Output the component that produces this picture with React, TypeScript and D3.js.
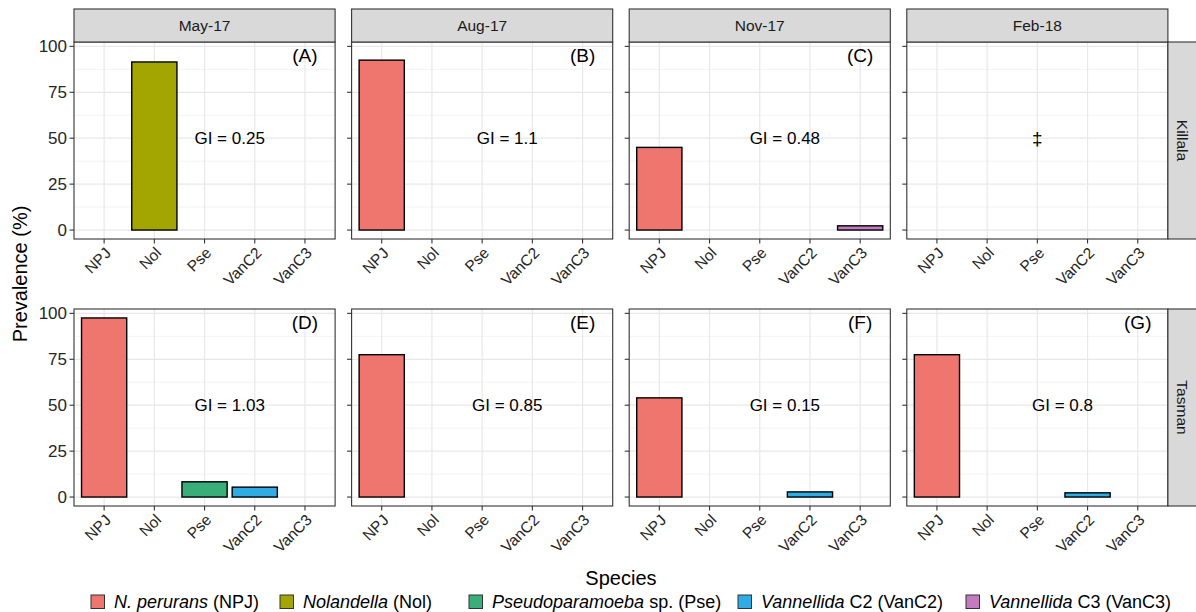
import * as d3 from 'd3';

// ---- data -----------------------------------------------------------------
const species = ['NPJ', 'Nol', 'Pse', 'VanC2', 'VanC3'];
const dates = ['May-17', 'Aug-17', 'Nov-17', 'Feb-18'];
const sites = ['Killala', 'Tasman'];

// prevalence (%) by date, in species order
const killala = [
  [0, 91.5, 0, 0, 0],
  [92.5, 0, 0, 0, 0],
  [45, 0, 0, 0, 2.3],
  [0, 0, 0, 0, 0],
];
const tasman = [
  [97.5, 0, 8.3, 5.4, 0],
  [77.5, 0, 0, 0, 0],
  [54, 0, 0, 2.8, 0],
  [77.5, 0, 0, 2.3, 0],
];
const prevalence = [killala, tasman];

const panelTags = [
  ['(A)', '(B)', '(C)', ''],
  ['(D)', '(E)', '(F)', '(G)'],
];
const giLabels = [
  ['GI = 0.25', 'GI = 1.1', 'GI = 0.48', ''],
  ['GI = 1.03', 'GI = 0.85', 'GI = 0.15', 'GI = 0.8'],
];
// panels without samples get a double dagger
const noData = [
  [false, false, false, true],
  [false, false, false, false],
];

const yTicks = [0, 25, 50, 75, 100];
const colors = ['#EE766F', '#A3A500', '#3AAE78', '#2FACE4', '#C27BBF'];
const legendItalic = ['N. perurans', 'Nolandella', 'Pseudoparamoeba', 'Vannellida', 'Vannellida'];
const legendPlain = [' (NPJ)', ' (Nol)', ' sp. (Pse)', ' C2 (VanC2)', ' C3 (VanC3)'];

// ---- layout ---------------------------------------------------------------
const W = 1196;
const H = 612;
const left0 = 74;
const panelW = 261.1;
const gapX = 16.5;
const stripTop = 9;
const rows = [
  { top: 42, bottom: 239 },
  { top: 309, bottom: 506 },
];
const tickLen = 4.5;
const legendKeyX = [91, 280, 469, 738, 966];
const FONT = '"Liberation Sans", Arial, Helvetica, sans-serif';

export default function App() {
  const ymax = d3.max(prevalence.flat(2)) as number;
  const pad = ymax * 0.05;
  const minor = yTicks.slice(0, -1).map((t, i) => (t + yTicks[i + 1]) / 2);

  const panels: JSX.Element[] = [];

  rows.forEach((row, r) => {
    const y = d3.scaleLinear().domain([-pad, ymax + pad]).range([row.bottom, row.top]);
    dates.forEach((date, c) => {
      const left = left0 + c * (panelW + gapX);
      const x = d3.scalePoint<string>().domain(species).range([left, left + panelW]).padding(0.6);
      const step = x.step();
      const bw = step * 0.9;
      const vals = prevalence[r][c];

      panels.push(
        <g key={`${r}-${c}`}>
          <rect x={left} y={row.top} width={panelW} height={row.bottom - row.top} fill="#fff" />
          {minor.map(t => (
            <line key={`mn${t}`} x1={left} x2={left + panelW} y1={y(t)} y2={y(t)} stroke="#EBEBEB" strokeWidth={0.6} />
          ))}
          {yTicks.map(t => (
            <line key={`mj${t}`} x1={left} x2={left + panelW} y1={y(t)} y2={y(t)} stroke="#E8E8E8" strokeWidth={1.2} />
          ))}
          {species.map(s => (
            <line key={`gx${s}`} x1={x(s)} x2={x(s)} y1={row.top} y2={row.bottom} stroke="#E8E8E8" strokeWidth={1.2} />
          ))}
          {species.map((s, i) =>
            vals[i] > 0 ? (
              <rect
                key={`b${s}`}
                x={(x(s) as number) - bw / 2}
                y={y(vals[i])}
                width={bw}
                height={y(0) - y(vals[i])}
                fill={colors[i]}
                stroke="#000"
                strokeWidth={1.4}
              />
            ) : null
          )}
          {panelTags[r][c] && (
            <text x={x('VanC3')} y={y(95)} dy="0.36em" textAnchor="middle" fontSize={19} fill="#000">
              {panelTags[r][c]}
            </text>
          )}
          {giLabels[r][c] && (
            <text x={(x('Pse') as number) + step / 2} y={y(50)} dy="0.36em" textAnchor="middle" fontSize={17} fill="#000">
              {giLabels[r][c]}
            </text>
          )}
          {noData[r][c] && (
            <text x={x('Pse')} y={y(50)} dy="0.36em" textAnchor="middle" fontSize={19} fill="#000">
              ‡
            </text>
          )}
          <rect x={left} y={row.top} width={panelW} height={row.bottom - row.top} fill="none" stroke="#333" strokeWidth={1.1} />
          {/* y ticks */}
          {yTicks.map(t => (
            <line key={`yt${t}`} x1={left - tickLen} x2={left} y1={y(t)} y2={y(t)} stroke="#333" strokeWidth={1.1} />
          ))}
          {c === 0 &&
            yTicks.map(t => (
              <text key={`yl${t}`} x={left - tickLen - 2.5} y={y(t)} dy="0.36em" textAnchor="end" fontSize={17} fill="#262626">
                {t}
              </text>
            ))}
          {/* x ticks */}
          {species.map(s => (
            <g key={`xt${s}`}>
              <line x1={x(s)} x2={x(s)} y1={row.bottom} y2={row.bottom + tickLen} stroke="#333" strokeWidth={1.1} />
              <text
                transform={`translate(${x(s)},${row.bottom + tickLen + 2.5}) rotate(-45)`}
                dy="0.72em"
                textAnchor="end"
                fontSize={15.5}
                fill="#262626"
              >
                {s}
              </text>
            </g>
          ))}
          {/* top strips */}
          {r === 0 && (
            <g>
              <rect x={left} y={stripTop} width={panelW} height={row.top - stripTop} fill="#D9D9D9" stroke="#333" strokeWidth={1.1} />
              <text x={left + panelW / 2} y={(stripTop + row.top) / 2} dy="0.36em" textAnchor="middle" fontSize={15.5} fill="#1A1A1A">
                {date}
              </text>
            </g>
          )}
        </g>
      );
    });

    // right strip
    const sx = left0 + 4 * panelW + 3 * gapX;
    panels.push(
      <g key={`strip${r}`}>
        <rect x={sx} y={row.top} width={34} height={row.bottom - row.top} fill="#D9D9D9" stroke="#333" strokeWidth={1.1} />
        <text
          transform={`translate(${sx + 15},${(row.top + row.bottom) / 2}) rotate(90)`}
          dy="0.36em"
          textAnchor="middle"
          fontSize={15.5}
          fill="#1A1A1A"
        >
          {sites[r]}
        </text>
      </g>
    );
  });

  const plotCenter = left0 + (4 * panelW + 3 * gapX) / 2;

  return (
    <svg
      width={W}
      height={H}
      style={{ position: 'fixed', left: 0, top: 0, display: 'block', background: '#fff' }}
      fontFamily={FONT}
    >
      <rect width={W} height={H} fill="#fff" />
      {panels}
      <text
        transform={`translate(27,${(rows[0].top + rows[1].bottom) / 2}) rotate(-90)`}
        textAnchor="middle"
        fontSize={20}
        fill="#000"
      >
        Prevalence (%)
      </text>
      <text x={plotCenter} y={585} textAnchor="middle" fontSize={20} fill="#000">
        Species
      </text>
      {species.map((s, i) => (
        <g key={`lg${s}`}>
          <rect x={legendKeyX[i]} y={595} width={13.5} height={13.5} fill={colors[i]} stroke="#333" strokeWidth={1} />
          <text x={legendKeyX[i] + 23} y={607.5} fontSize={18} fill="#000">
            <tspan fontStyle="italic">{legendItalic[i]}</tspan>
            <tspan>{legendPlain[i]}</tspan>
          </text>
        </g>
      ))}
    </svg>
  );
}
